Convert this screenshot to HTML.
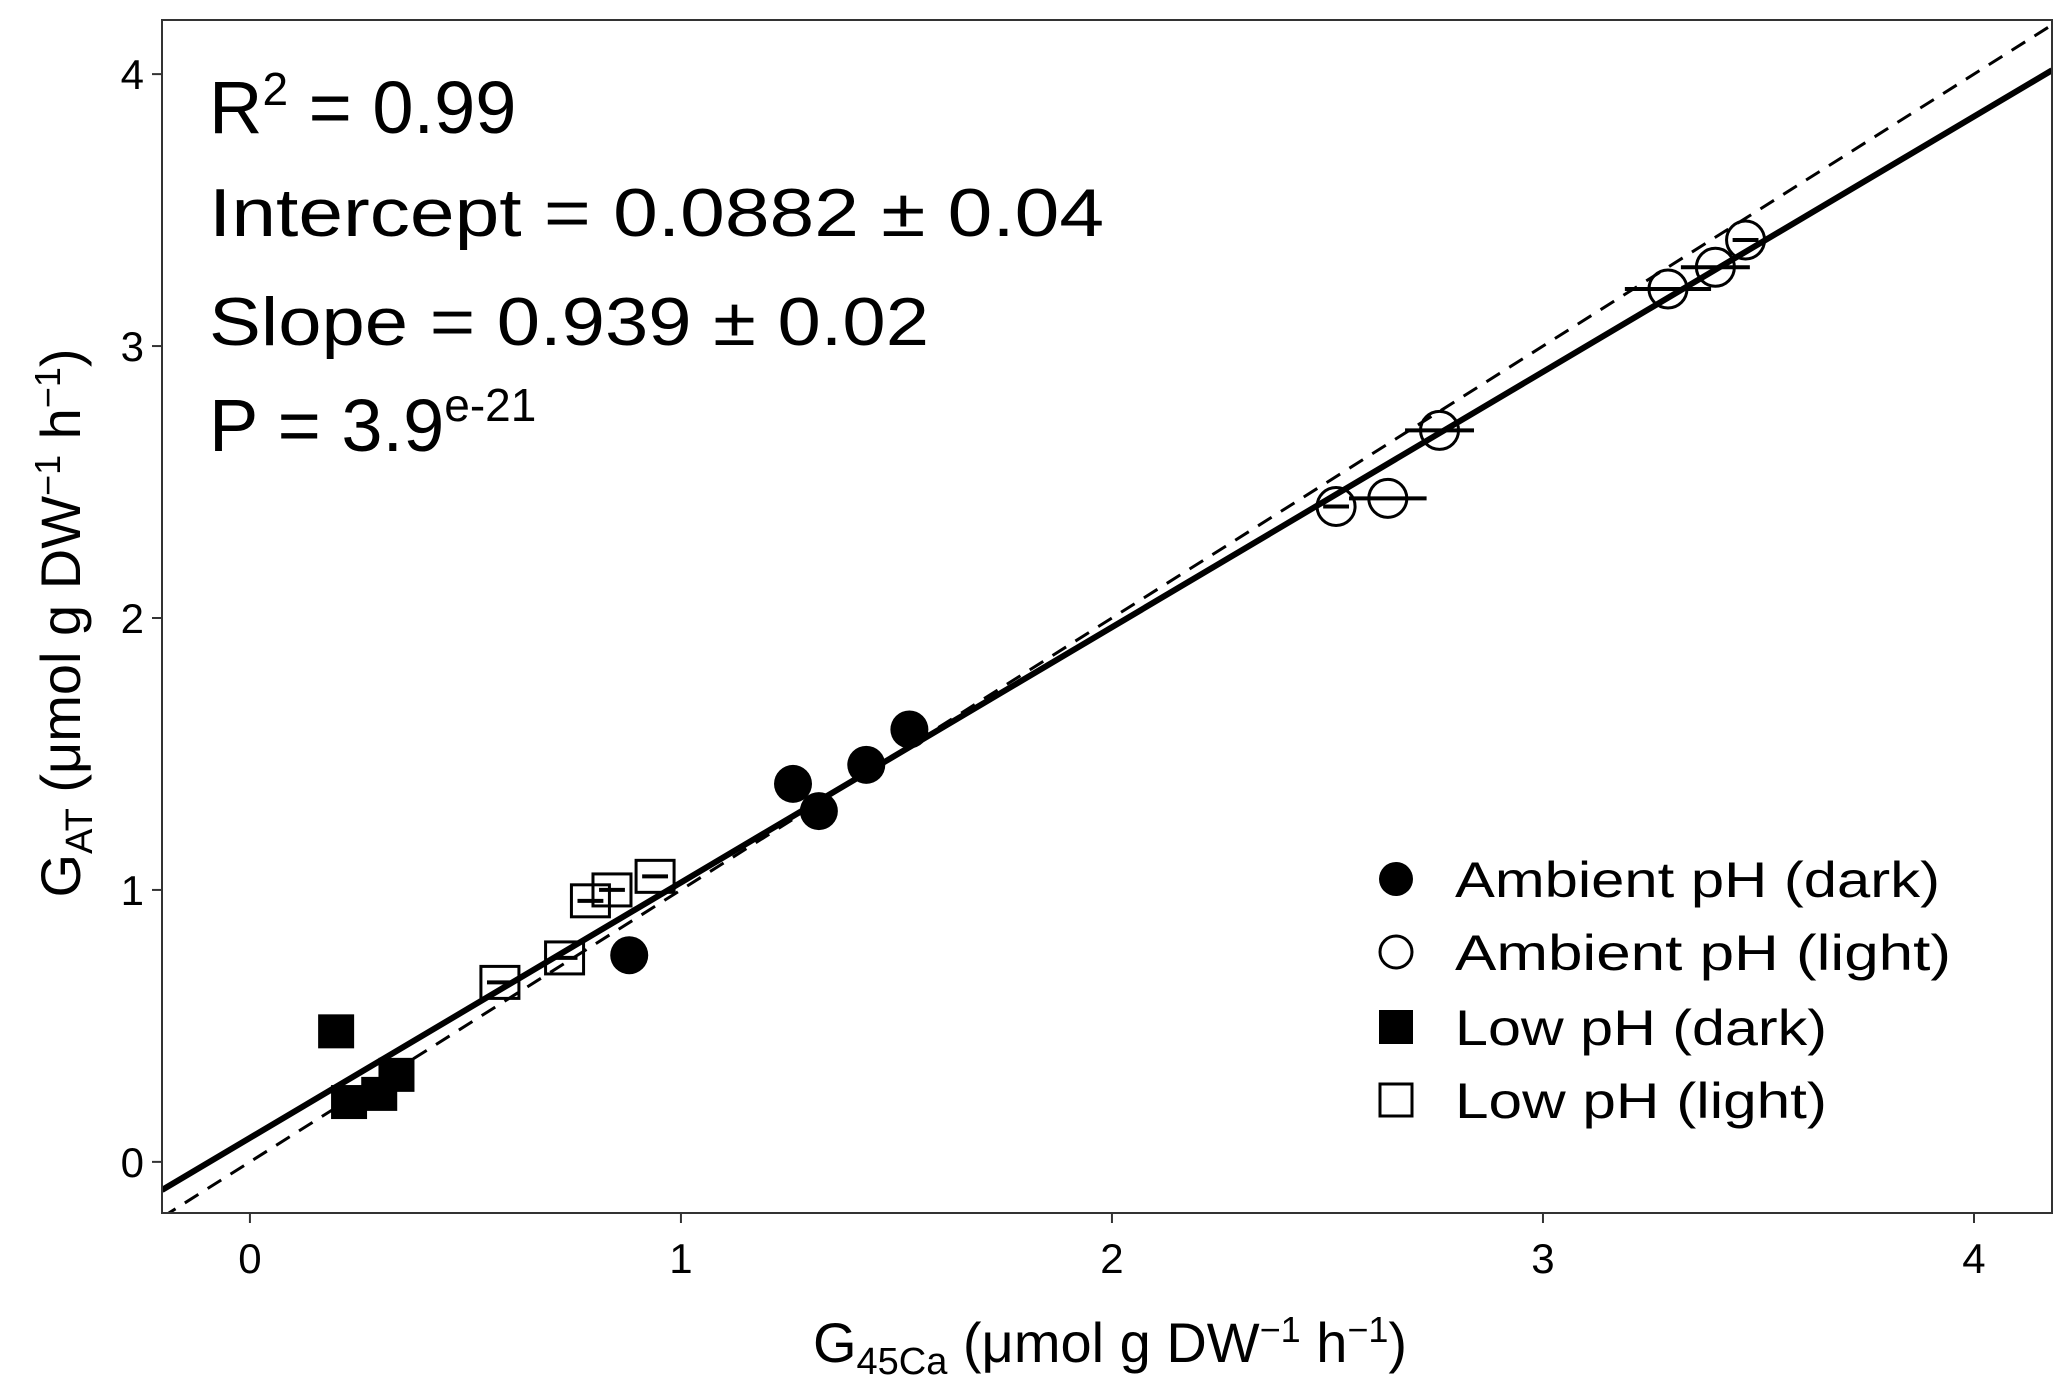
<!DOCTYPE html>
<html><head><meta charset="utf-8"><style>
html,body{margin:0;padding:0;background:#fff;}
svg{display:block;}
text{font-family:"Liberation Sans",sans-serif;fill:#000;}
</style></head><body>
<svg id="chart" width="2067" height="1380" viewBox="0 0 2067 1380" xmlns="http://www.w3.org/2000/svg">
<g id="plot"></g>
</svg>
<script>
const xTicks=[0,1,2,3,4];
const yTicks=[0,1,2,3,4];
const ambientDarkX=[1.26,1.32,1.43,1.53,0.88];
const ambientDarkY=[1.39,1.29,1.46,1.59,0.76];
const ambientLightX=[2.52,2.64,2.76,3.29,3.40,3.47];
const ambientLightY=[2.41,2.44,2.69,3.21,3.29,3.39];
const ambientLightErr=[0.03,0.09,0.08,0.1,0.08,0.03];
const lowDarkX=[0.20,0.23,0.30,0.34];
const lowDarkY=[0.48,0.22,0.25,0.32];
const lowLightX=[0.58,0.73,0.79,0.84,0.94];
const lowLightY=[0.66,0.75,0.96,1.00,1.05];
const fitIntercept=0.0882, fitSlope=0.939;

const NS="http://www.w3.org/2000/svg";
const L=162,R=2052,T=20,B=1213;
const xMin=-0.204,xMax=4.181,yMin=-0.188,yMax=4.199;
const sx=v=>L+(v-xMin)/(xMax-xMin)*(R-L);
const sy=v=>B-(v-yMin)/(yMax-yMin)*(B-T);
const svg=document.getElementById('chart');
const plot=document.getElementById('plot');
function mk(tag,attrs,parent){const e=document.createElementNS(NS,tag);for(const k in attrs)e.setAttribute(k,attrs[k]);(parent||svg).appendChild(e);return e;}

const cp=mk('clipPath',{id:'clip'});mk('rect',{x:L,y:T,width:R-L,height:B-T},cp);
const g=mk('g',{'clip-path':'url(#clip)'},plot);
let l1=mk('line',{x1:sx(xMin),y1:sy(xMin),x2:sx(xMax),y2:sy(xMax),stroke:'#000','stroke-width':3,'stroke-dasharray':'16 11'},g);


let l2=mk('line',{x1:sx(xMin),y1:sy(fitIntercept+fitSlope*xMin),x2:sx(xMax),y2:sy(fitIntercept+fitSlope*xMax),stroke:'#000','stroke-width':6},g);



function errbar(x,y,e){const b=mk('line',{x1:sx(x-e),y1:sy(y),x2:sx(x+e),y2:sy(y),stroke:'#000','stroke-width':4},g);

}
ambientDarkX.forEach((x,i)=>{errbar(x,ambientDarkY[i],0.03);const c=mk('circle',{cx:sx(x),cy:sy(ambientDarkY[i]),r:19,fill:'#000'},g);

});
ambientLightX.forEach((x,i)=>{errbar(x,ambientLightY[i],ambientLightErr[i]);const c=mk('circle',{cx:sx(x),cy:sy(ambientLightY[i]),r:19,fill:'none',stroke:'#000','stroke-width':3},g);

});
lowDarkX.forEach((x,i)=>{errbar(x,lowDarkY[i],0.03);const c=mk('rect',{x:sx(x)-18,y:sy(lowDarkY[i])-17,width:36,height:34,fill:'#000'},g);

});
lowLightX.forEach((x,i)=>{errbar(x,lowLightY[i],0.03);const c=mk('rect',{x:sx(x)-19,y:sy(lowLightY[i])-16,width:38,height:32,fill:'none',stroke:'#000','stroke-width':3},g);

});

const fr=mk('rect',{x:L,y:T,width:R-L,height:B-T,fill:'none',stroke:'#333','stroke-width':2});


xTicks.forEach(v=>{mk('line',{x1:sx(v),y1:B,x2:sx(v),y2:B+10,stroke:'#333','stroke-width':2});
const t=mk('text',{x:sx(v),y:B+60,'text-anchor':'middle','font-size':42,fill:'#222'});t.textContent=v;

});
yTicks.forEach(v=>{mk('line',{x1:L-10,y1:sy(v),x2:L,y2:sy(v),stroke:'#333','stroke-width':2});
const t=mk('text',{x:L-18,y:sy(v)+15,'text-anchor':'end','font-size':42,fill:'#222'});t.textContent=v;

});
</script>
<svg style="position:absolute;left:0;top:0" width="2067" height="1380" xmlns="http://www.w3.org/2000/svg">
<g font-size="68">
<text x="209" y="133" font-size="74">R<tspan dy="-28" font-size="46">2</tspan><tspan dy="28"> = 0.99</tspan></text>
<text x="209" y="236" textLength="895" lengthAdjust="spacingAndGlyphs">Intercept = 0.0882 ± 0.04</text>
<text x="209" y="345" textLength="720" lengthAdjust="spacingAndGlyphs">Slope = 0.939 ± 0.02</text>
<text x="209" y="451" font-size="74">P = 3.9<tspan dy="-30" font-size="46">e-21</tspan></text>
</g>
<g font-size="50">
<circle cx="1396" cy="879" r="17" fill="#000"/>
<text x="1455" y="897" textLength="485" lengthAdjust="spacingAndGlyphs">Ambient pH (dark)</text>
<circle cx="1396" cy="952" r="16" fill="none" stroke="#000" stroke-width="3"/>
<text x="1455" y="970" textLength="496" lengthAdjust="spacingAndGlyphs">Ambient pH (light)</text>
<rect x="1379" y="1010" width="34" height="34" fill="#000"/>
<text x="1455" y="1045" textLength="372" lengthAdjust="spacingAndGlyphs">Low pH (dark)</text>
<rect x="1380" y="1084" width="32" height="32" fill="none" stroke="#000" stroke-width="3"/>
<text x="1455" y="1118" textLength="372" lengthAdjust="spacingAndGlyphs">Low pH (light)</text>
</g>
<text x="1110" y="1362" text-anchor="middle" font-size="56" fill="#222">G<tspan font-size="38" dy="12">45Ca</tspan><tspan dy="-12"> (μmol g DW</tspan><tspan font-size="36" dy="-20">−1</tspan><tspan dy="20"> h</tspan><tspan font-size="36" dy="-20">−1</tspan><tspan dy="20">)</tspan></text>
<text transform="translate(80,623) rotate(-90)" text-anchor="middle" font-size="56" fill="#222">G<tspan font-size="38" dy="12">AT</tspan><tspan dy="-12"> (μmol g DW</tspan><tspan font-size="36" dy="-20">−1</tspan><tspan dy="20"> h</tspan><tspan font-size="36" dy="-20">−1</tspan><tspan dy="20">)</tspan></text>
</svg>
</body></html>
